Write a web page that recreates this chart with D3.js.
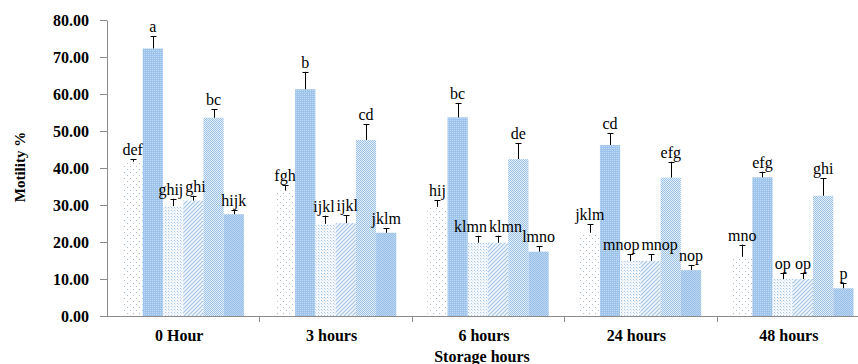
<!DOCTYPE html>
<html>
<head>
<meta charset="utf-8">
<script src="https://cdn.jsdelivr.net/npm/d3@7"></script>
<style>
  body { margin: 0; background: #fff; }
</style>
</head>
<body>
<div class="chart-box"></div>
<script>
// storage time groups on the x axis
const groups = ['0 Hour', '3 hours', '6 hours', '24 hours', '48 hours'];
const yTicks = [0, 10, 20, 30, 40, 50, 60, 70, 80];

// mean motility for each of the six treatments
const series1 = [41.7, 33.9, 29.5, 22.5, 16.0];
const series2 = [72.3, 61.3, 53.7, 46.2, 37.5];
const series3 = [29.7, 24.9, 19.8, 14.9, 10.0];
const series4 = [31.2, 25.1, 19.8, 14.9, 10.0];
const series5 = [53.6, 47.6, 42.4, 37.4, 32.5];
const series6 = [27.5, 22.5, 17.4, 12.4, 7.5];

// upper error bars
const err1 = [0.7, 1.5, 1.8, 2.3, 3.3];
const err2 = [3.3, 4.7, 3.8, 3.2, 1.5];
const err3 = [2.0, 2.2, 1.9, 1.8, 1.5];
const err4 = [1.3, 2.2, 1.9, 1.8, 1.5];
const err5 = [2.3, 4.3, 4.3, 4.3, 4.7];
const err6 = [1.1, 1.2, 1.5, 1.4, 1.5];

// significance letters
const letters1 = ['def', 'fgh', 'hij', 'jklm', 'mno'];
const letters2 = ['a', 'b', 'bc', 'cd', 'efg'];
const letters3 = ['ghij', 'ijkl', 'klmn', 'mnop', 'op'];
const letters4 = ['ghi', 'ijkl', 'klmn', 'mnop', 'op'];
const letters5 = ['bc', 'cd', 'de', 'efg', 'ghi'];
const letters6 = ['hijk', 'jklm', 'lmno', 'nop', 'p'];

const values = [series1, series2, series3, series4, series5, series6];
const errors = [err1, err2, err3, err4, err5, err6];
const letters = [letters1, letters2, letters3, letters4, letters5, letters6];

const W = 858, H = 364;
const plot = { left: 107, right: 869, top: 20, bottom: 316 };
const SERIF = '"Liberation Serif", "Times New Roman", Times, "DejaVu Serif", serif';

let svg = d3.select('.chart-box')
  .append('svg')
    .attr('width', W)
    .attr('height', H)
    .attr('font-family', SERIF)
    .style('font-family', SERIF);

/**
 * Fill patterns used by the six bars
 */
let defs = svg.append('defs');
let addPattern = (id, size, bg, draw) => {
  let p = defs.append('pattern')
    .attr('id', id)
    .attr('patternUnits', 'userSpaceOnUse')
    .attr('width', size)
    .attr('height', size);
  p.append('rect').attr('width', size).attr('height', size).attr('fill', bg);
  draw(p);
};

// sparse dots on white
addPattern('p1', 6, '#ffffff', p => {
  p.append('rect').attr('x', 1).attr('y', 1).attr('width', 1).attr('height', 1).attr('fill', '#aebfd0');
  p.append('rect').attr('x', 4).attr('y', 4).attr('width', 1).attr('height', 1).attr('fill', '#aebfd0');
});
// dense blue
addPattern('p2', 2, '#9fc4eb', p => {
  p.append('rect').attr('x', 0).attr('y', 0).attr('width', 1).attr('height', 1).attr('fill', '#c0daf3');
});
// light dotted grid
addPattern('p3', 3, '#f4f8fd', p => {
  p.append('rect').attr('x', 0).attr('y', 0).attr('width', 1).attr('height', 1).attr('fill', '#a9c8e8');
  p.append('rect').attr('x', 1).attr('y', 1).attr('width', 1).attr('height', 1).attr('fill', '#d3e3f4');
});
// diagonal hatch
addPattern('p4', 4, '#f2f7fc', p => {
  p.append('path')
    .attr('d', 'M-1,1 L1,-1 M0,4 L4,0 M3,5 L5,3')
    .attr('stroke', '#a7c6e6')
    .attr('stroke-width', 1.2);
});
// checker
addPattern('p5', 2, '#e3eef9', p => {
  p.append('rect').attr('x', 0).attr('y', 0).attr('width', 1).attr('height', 1).attr('fill', '#9dc2e8');
  p.append('rect').attr('x', 1).attr('y', 1).attr('width', 1).attr('height', 1).attr('fill', '#9dc2e8');
});
// denser checker
addPattern('p6', 2, '#bcd6f1', p => {
  p.append('rect').attr('x', 0).attr('y', 0).attr('width', 1).attr('height', 1).attr('fill', '#98bfe7');
  p.append('rect').attr('x', 1).attr('y', 1).attr('width', 1).attr('height', 1).attr('fill', '#98bfe7');
});

/**
 * Scales
 */
let x0 = d3.scaleBand()
  .domain(groups)
  .range([plot.left, plot.right])
  .paddingInner(0)
  .paddingOuter(0);

let x1 = d3.scaleBand()
  .domain(d3.range(values.length))
  .range([15.5, x0.bandwidth() - 15.5])
  .padding(0);

let y = d3.scaleLinear()
  .domain([0, 80])
  .range([plot.bottom, plot.top]);

/**
 * Y axis
 */
let yAxis = svg.append('g')
  .attr('transform', 'translate(' + plot.left + ',0)')
  .call(d3.axisLeft(y).tickValues(yTicks).tickFormat(d3.format('.2f')).tickSize(7).tickSizeOuter(0));
yAxis.attr('font-family', SERIF);
yAxis.select('.domain').attr('stroke', '#8e8a8a');
yAxis.selectAll('.tick line').attr('stroke', '#8e8a8a');
yAxis.selectAll('.tick text')
  .attr('x', -18)
  .style('font-family', SERIF)
  .style('font-size', '16px')
  .style('font-weight', 'bold')
  .attr('fill', '#000');

/**
 * Bars
 */
let barData = [];
groups.forEach((g, gi) => {
  values.forEach((s, si) => {
    barData.push({ g: g, s: si, v: s[gi], e: errors[si][gi], t: letters[si][gi] });
  });
});

let bars = svg.append('g');
bars.selectAll('rect')
  .data(barData)
  .enter().append('rect')
    .attr('x', d => x0(d.g) + x1(d.s))
    .attr('y', d => y(d.v))
    .attr('width', x1.bandwidth())
    .attr('height', d => y(0) - y(d.v))
    .attr('fill', d => 'url(#p' + (d.s + 1) + ')');

// error bars (upper only)
let errs = svg.append('g').attr('stroke', '#000').attr('stroke-width', 1);
barData.forEach(d => {
  let cx = Math.round(x0(d.g) + x1(d.s) + x1.bandwidth() / 2) + 0.5;
  errs.append('line')
    .attr('x1', cx).attr('x2', cx)
    .attr('y1', y(d.v)).attr('y2', y(d.v + d.e));
  errs.append('line')
    .attr('x1', cx - 3).attr('x2', cx + 3)
    .attr('y1', Math.round(y(d.v + d.e)) + 0.5).attr('y2', Math.round(y(d.v + d.e)) + 0.5);
});

// significance letters
let labels = svg.append('g')
  .style('font-family', SERIF)
  .style('font-size', '16px')
  .attr('text-anchor', 'middle')
  .attr('fill', '#000');
let labelNodes = barData.map(d => {
  let t = labels.append('text')
    .attr('x', x0(d.g) + x1(d.s) + x1.bandwidth() / 2)
    .attr('y', y(d.v + d.e) - 4)
    .text(d.t);
  return { d: d, node: t, cx: +t.attr('x'), cy: +t.attr('y'), w: t.node().getComputedTextLength() };
});
// push overlapping neighbours apart
groups.forEach(g => {
  let row = labelNodes.filter(l => l.d.g == g);
  for (let i = 0; i < row.length - 1; i++) {
    let a = row[i], b = row[i + 1];
    if (Math.abs(a.cy - b.cy) > 13) continue;
    let overlap = (a.cx + a.w / 2 + 2) - (b.cx - b.w / 2);
    if (overlap > 0) {
      a.cx -= overlap / 2;
      b.cx += overlap / 2;
    }
  }
  row.forEach(l => l.node.attr('x', l.cx));
});

/**
 * X axis
 */
let xAxis = svg.append('g');
xAxis.append('line')
  .attr('x1', plot.left).attr('x2', W)
  .attr('y1', plot.bottom + 0.5).attr('y2', plot.bottom + 0.5)
  .attr('stroke', '#8e8a8a');
xAxis.selectAll('.sep')
  .data(groups.slice(1))
  .enter().append('line')
    .attr('class', 'sep')
    .attr('x1', d => Math.round(x0(d)) + 0.5).attr('x2', d => Math.round(x0(d)) + 0.5)
    .attr('y1', plot.bottom).attr('y2', plot.bottom + 6)
    .attr('stroke', '#8e8a8a');
xAxis.selectAll('.glabel')
  .data(groups)
  .enter().append('text')
    .attr('class', 'glabel')
    .attr('x', d => x0(d) + x0.bandwidth() / 2 - 4)
    .attr('y', 341)
    .attr('text-anchor', 'middle')
    .style('font-family', SERIF)
    .style('font-size', '16px')
    .style('font-weight', 'bold')
    .text(d => d);

// axis titles
svg.append('text')
  .attr('x', 482)
  .attr('y', 362)
  .attr('text-anchor', 'middle')
  .style('font-family', SERIF)
  .style('font-size', '16px')
  .style('font-weight', 'bold')
  .text('Storage hours');

svg.append('text')
  .attr('transform', 'translate(25,167) rotate(-90)')
  .attr('text-anchor', 'middle')
  .style('font-family', SERIF)
  .style('font-size', '15px')
  .style('font-weight', 'bold')
  .text('Motility %');
</script>
</body>
</html>
